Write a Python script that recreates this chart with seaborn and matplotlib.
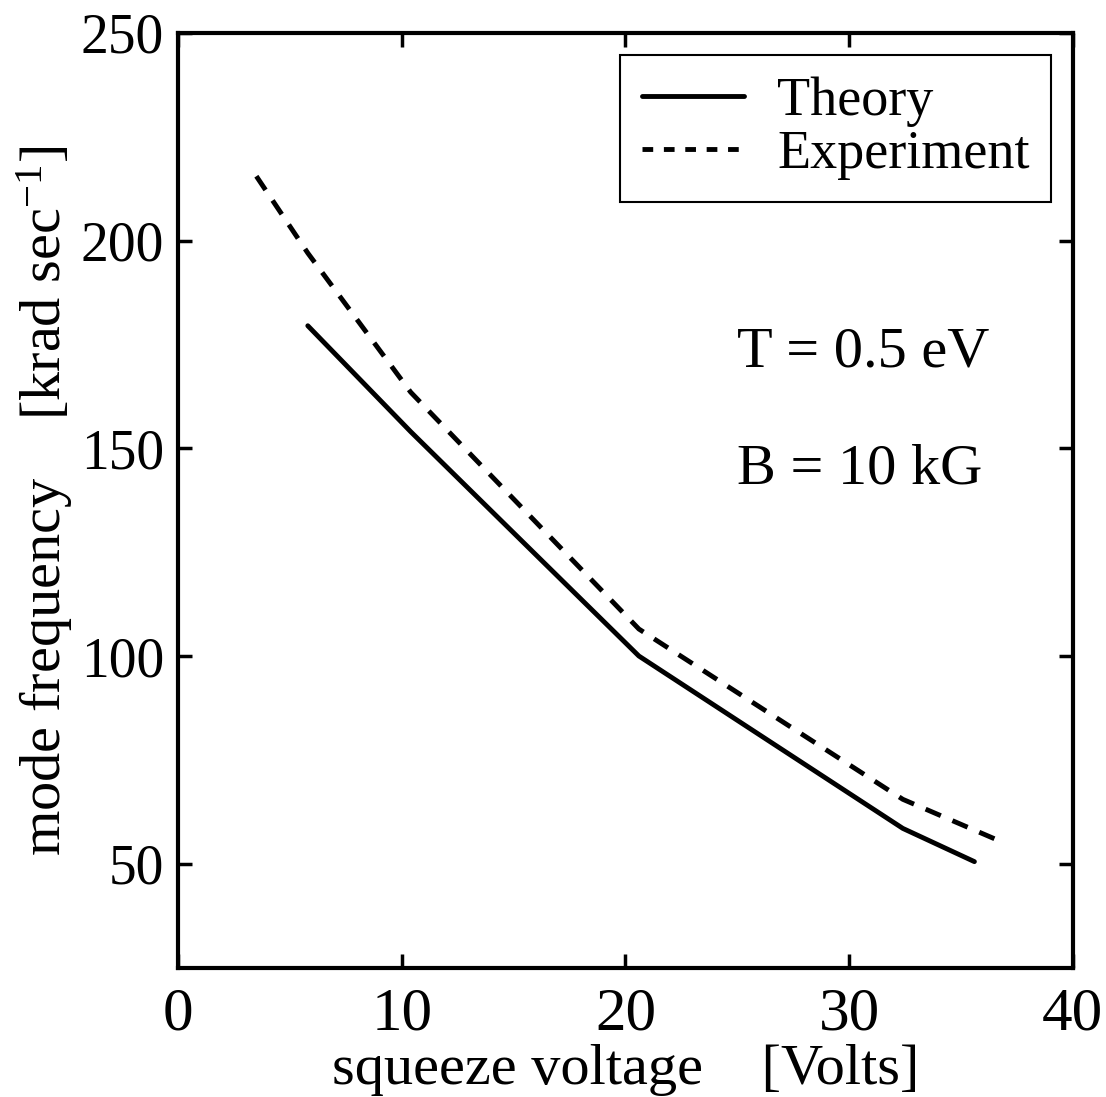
import matplotlib
matplotlib.use("Agg")
import matplotlib.pyplot as plt
import seaborn as sns
import pandas as pd

theory_x = [5.8, 10.4, 20.6, 32.4, 35.6]
theory_y = [179.5, 154.0, 100.0, 58.5, 50.5]
exp_x = [3.5, 5.8, 10.4, 20.6, 32.4, 36.5]
exp_y = [215.5, 197.0, 163.5, 106.5, 65.5, 56.0]
x_ticks = [0, 10, 20, 30, 40]
y_ticks = [50, 100, 150, 200, 250]

sns.set_theme(style="white")
plt.rcParams['font.family'] = ['Liberation Serif', 'DejaVu Serif']
plt.rcParams['mathtext.fontset'] = 'custom'
plt.rcParams['mathtext.rm'] = 'Liberation Serif'
plt.rcParams['mathtext.it'] = 'Liberation Serif:italic'
plt.rcParams['mathtext.bf'] = 'Liberation Serif:bold'
plt.rcParams['text.color'] = 'black'

fig = plt.figure(figsize=(11.06, 10.97), dpi=100)
ax = fig.add_axes([0.161, 0.118, 0.809, 0.852])

df_t = pd.DataFrame({"x": theory_x, "y": theory_y})
df_e = pd.DataFrame({"x": exp_x, "y": exp_y})
sns.lineplot(data=df_t, x="x", y="y", ax=ax, color="black", lw=3.5,
             label="Theory", sort=False)
sns.lineplot(data=df_e, x="x", y="y", ax=ax, color="black", lw=3.5,
             label="Experiment", sort=False)
ax.lines[1].set_dashes([3.4, 2.6])
ax.lines[1].set_dash_capstyle("butt")

ax.set_xlim(0, 40)
ax.set_ylim(25, 250)
ax.set_xticks(x_ticks)
ax.set_yticks(y_ticks)
ax.tick_params(axis='x', labelsize=44, pad=14)
ax.tick_params(axis='y', labelsize=40, pad=10)
ax.tick_params(direction='in', length=10, width=2.5, top=True, right=True,
               bottom=True, left=True, color='black', labelcolor='black')
for s in ax.spines.values():
    s.set_linewidth(3)
    s.set_color('black')

ax.set_xlabel("squeeze voltage    [Volts]", fontsize=42, labelpad=1, color='black')
ax.set_ylabel("mode frequency    [krad sec$^{-1}$]", fontsize=42, labelpad=4, color='black')

ax.text(25.0, 173, "T = 0.5 eV", fontsize=42, va='center', ha='left', color='black')
ax.text(25.0, 145, "B = 10 kG", fontsize=42, va='center', ha='left', color='black')

leg = ax.legend(loc='upper right', fontsize=39, frameon=True, fancybox=False,
                framealpha=1, handlelength=1.9, handletextpad=0.6, borderpad=0.4,
                labelspacing=0.05, borderaxespad=0.4)
leg.get_frame().set_edgecolor('black')
leg.get_frame().set_linewidth(1.5)
for t in leg.get_texts():
    t.set_color('black')
leg.get_lines()[1].set_dashes([2.2, 2.2])

fig.savefig("out.png", dpi=100)
